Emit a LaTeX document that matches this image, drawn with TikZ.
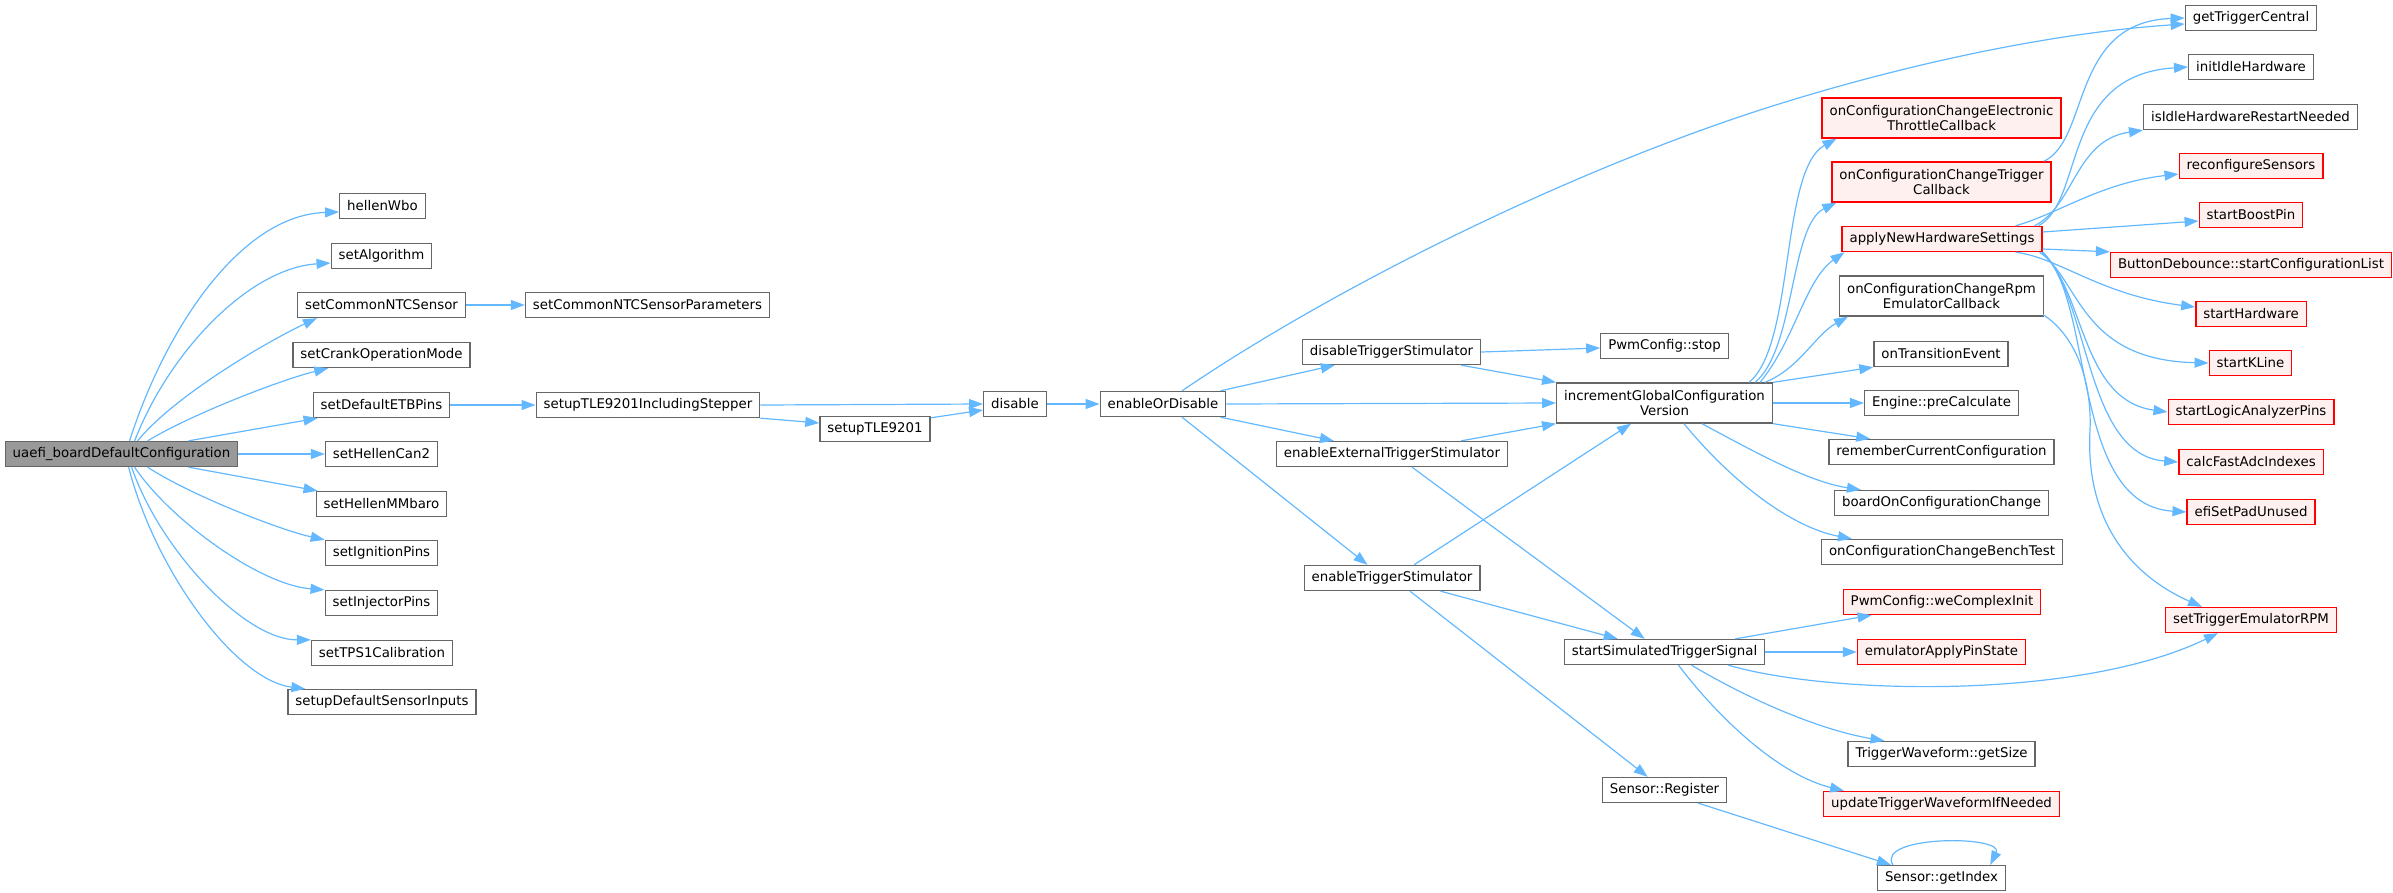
\documentclass[tikz,border=0pt]{standalone}
\usepackage{fontspec}
\setmainfont{DejaVu Sans}
\usepackage{tikz}
\usetikzlibrary{arrows.meta,calc}
\definecolor{edgeblue}{HTML}{63B8FF}
\definecolor{boxgrey}{HTML}{666666}
\definecolor{rootgrey}{HTML}{999999}
\definecolor{pinkfill}{HTML}{FFF0F0}
\tikzset{
    fn/.style={ draw=boxgrey, fill=white, line width=1pt, inner xsep=5.6pt, inner ysep=2pt,
                minimum height=18.75pt, font=\fontsize{10pt}{11pt}\selectfont },
    fnred/.style={ fn, draw=red, fill=pinkfill },
    fnroot/.style={ fn, fill=rootgrey },
    twoline/.style={ align=center, minimum height=30pt },
    calls/.style={ draw=edgeblue, line width=0.9pt, -{Triangle[length=10.5pt,width=7.5pt]} }
}

\begin{document}
\begin{tikzpicture}[x=0.75pt,y=-0.75pt]
        \useasboundingbox (0,0) rectangle (2393,892);

        \node[fnroot] (root) at (121.5,454) {uaefi\_boardDefaultConfiguration};

        \node[fn] (wbo)    at (382.5,206) {hellenWbo};
        \node[fn] (algo)   at (381.5,256) {setAlgorithm};
        \node[fn] (ntc)    at (381.5,305) {setCommonNTCSensor};
        \node[fn] (crank)  at (381.5,355) {setCrankOperationMode};
        \node[fn] (etb)    at (381.5,405) {setDefaultETBPins};
        \node[fn] (can2)   at (381.5,454) {setHellenCan2};
        \node[fn] (mmbaro) at (381.5,504) {setHellenMMbaro};
        \node[fn] (ign)    at (381.5,553) {setIgnitionPins};
        \node[fn] (inj)    at (381.5,603) {setInjectorPins};
        \node[fn] (tps)    at (382,653)   {setTPS1Calibration};
        \node[fn] (sdef)   at (382,702)   {setupDefaultSensorInputs};

        \node[fn] (ntcpar)  at (647.5,305) {setCommonNTCSensorParameters};
        \node[fn] (stepper) at (648,405)   {setupTLE9201IncludingStepper};
        \node[fn] (tle)     at (875,429)   {setupTLE9201};
        \node[fn] (dis)     at (1015,404)  {disable};
        \node[fn] (eod)     at (1163,404)  {enableOrDisable};

        \node[fn] (distrig) at (1391.5,352) {disableTriggerStimulator};
        \node[fn] (exttrig) at (1392,454)   {enableExternalTriggerStimulator};
        \node[fn] (entrig)  at (1392,578)   {enableTriggerStimulator};

        \node[fn] (pwmstop)          at (1664.5,346) {PwmConfig::stop};
        \node[fn,twoline] (incr)     at (1664.5,403) {incrementGlobalConfiguration\\Version};
        \node[fn] (simsig)           at (1664.5,652) {startSimulatedTriggerSignal};
        \node[fn] (sreg)             at (1664.5,790) {Sensor::Register};

        \node[fnred,twoline] (etc)    at (1941.5,118) {onConfigurationChangeElectronic\\ThrottleCallback};
        \node[fnred,twoline] (trigcb) at (1941.5,182) {onConfigurationChangeTrigger\\Callback};
        \node[fnred] (anhs)           at (1942,239)   {applyNewHardwareSettings};
        \node[fn,twoline] (rpmcb)     at (1941.5,296) {onConfigurationChangeRpm\\EmulatorCallback};
        \node[fn] (trans)       at (1941,354)   {onTransitionEvent};
        \node[fn] (precalc)     at (1941.5,403) {Engine::preCalculate};
        \node[fn] (remember)    at (1941.5,452) {rememberCurrentConfiguration};
        \node[fn] (boardcfg)    at (1941.5,503) {boardOnConfigurationChange};
        \node[fn] (bench)       at (1942,552)   {onConfigurationChangeBenchTest};
        \node[fnred] (wecomplex) at (1942,602)  {PwmConfig::weComplexInit};
        \node[fnred] (emupin)   at (1941.5,652) {emulatorApplyPinState};
        \node[fn] (wfsize)      at (1941.5,754) {TriggerWaveform::getSize};
        \node[fnred] (wfupd)    at (1941.5,804) {updateTriggerWaveformIfNeeded};
        \node[fn] (getidx)      at (1941.5,878) {Sensor::getIndex};

        \node[fn] (gtc)         at (2251,18)    {getTriggerCentral};
        \node[fn] (idle)        at (2251,67)    {initIdleHardware};
        \node[fn] (idlerst)     at (2250.5,117) {isIdleHardwareRestartNeeded};
        \node[fnred] (reconf)   at (2251,166)   {reconfigureSensors};
        \node[fnred] (boost)    at (2251,215)   {startBoostPin};
        \node[fnred] (btn)      at (2251,265)   {ButtonDebounce::startConfigurationList};
        \node[fnred] (starthw)  at (2251,314)   {startHardware};
        \node[fnred] (kline)    at (2250.5,363) {startKLine};
        \node[fnred] (logic)    at (2251,412)   {startLogicAnalyzerPins};
        \node[fnred] (fastadc)  at (2251,462)   {calcFastAdcIndexes};
        \node[fnred] (padunused) at (2251,512)  {efiSetPadUnused};
        \node[fnred] (emurpm)   at (2251,620)   {setTriggerEmulatorRPM};

        \draw[calls] ($(root.north west)+(125,0)$) .. controls (165,330) and (240,215) .. ($(wbo.west)+(0,6)$);
        \draw[calls] ($(root.north west)+(130,0)$) .. controls (170,350) and (250,268) .. ($(algo.west)+(0,7)$);
        \draw[calls] ($(root.north west)+(133,0)$) .. controls (175,395) and (270,340) .. ($(ntc.south west)+(20,0)$);
        \draw[calls] ($(root.north west)+(143,0)$) .. controls (190,415) and (280,380) .. ($(crank.south west)+(36,0)$);
        \draw[calls] ($(root.north west)+(184,0)$) -- ($(etb.south west)+(5,0)$);
        \draw[calls] (root.east) -- (can2.west);
        \draw[calls] ($(root.south west)+(184,0)$) -- ($(mmbaro.north west)+(2,0)$);
        \draw[calls] ($(root.south west)+(143,0)$) .. controls (190,495) and (280,530) .. (ign.north west);
        \draw[calls] ($(root.south west)+(130,0)$) .. controls (170,520) and (260,585) .. (inj.north west);
        \draw[calls] ($(root.south west)+(127,0)$) .. controls (160,550) and (245,640) .. (tps.north west);
        \draw[calls] ($(root.south west)+(124,0)$) .. controls (155,570) and (235,680) .. ($(sdef.north west)+(18,0)$);

        \draw[calls] (ntc.east) -- (ntcpar.west);
        \draw[calls] (etb.east) -- (stepper.west);
        \draw[calls] (stepper.east) -- (dis.west);
        \draw[calls] (stepper.south east) -- ($(tle.west)+(0,-6)$);
        \draw[calls] ($(tle.north east)+(0,2)$) -- ($(dis.west)+(0,6)$);
        \draw[calls] (dis.east) -- (eod.west);

        \draw[calls] ($(eod.north)+(19,0)$) .. controls (1330,290) and (1560,175) .. (1760,110)
            .. controls (1900,65) and (2050,33) .. ($(gtc.west)+(0,6)$);
        \draw[calls] ($(eod.north east)+(-6,0)$) -- ($(distrig.south west)+(33,0)$);
        \draw[calls] (eod.east) -- (incr.west);
        \draw[calls] ($(eod.south east)+(-6,0)$) -- ($(exttrig.north west)+(58,0)$);
        \draw[calls] ($(eod.south)+(19,0)$) -- ($(entrig.north west)+(64,0)$);

        \draw[calls] (distrig.east) -- ($(pwmstop.west)+(0,2)$);
        \draw[calls] ($(distrig.south east)+(-20,0)$) -- (incr.north west);
        \draw[calls] ($(exttrig.north east)+(-47,0)$) -- (incr.south west);
        \draw[calls] ($(entrig.north)+(22,0)$) -- ($(incr.south west)+(75,0)$);
        \draw[calls] ($(exttrig.south)+(20,0)$) -- ($(simsig.north west)+(81,0)$);
        \draw[calls] ($(entrig.south east)+(-40,0)$) -- ($(simsig.north west)+(54,0)$);
        \draw[calls] ($(entrig.south)+(18,0)$) -- ($(sreg.north west)+(46,0)$);

        \draw[calls] ($(incr.north east)+(-24,0)$) .. controls (1795,345) and (1780,170) .. ($(etc.south west)+(15,0)$);
        \draw[calls] ($(incr.north east)+(-18,0)$) .. controls (1795,350) and (1790,225) .. ($(trigcb.south west)+(5,0)$);
        \draw[calls] ($(incr.north east)+(-13,0)$) .. controls (1795,340) and (1805,280) .. ($(anhs.south west)+(3,0)$);
        \draw[calls] ($(incr.north east)+(-8,0)$) .. controls (1800,368) and (1815,335) .. ($(rpmcb.south west)+(9,0)$);
        \draw[calls] (incr.north east) -- (trans.south west);
        \draw[calls] (incr.east) -- (precalc.west);
        \draw[calls] (incr.south east) -- ($(remember.north west)+(42,0)$);
        \draw[calls] ($(incr.south east)+(-71,0)$) .. controls (1760,455) and (1810,482) .. ($(boardcfg.north west)+(27,0)$);
        \draw[calls] ($(incr.south east)+(-89,0)$) .. controls (1730,480) and (1790,527) .. ($(bench.north west)+(31,0)$);

        \draw[calls] ($(trigcb.north east)+(-8,0)$) .. controls (2090,140) and (2070,22) .. (gtc.west);
        \draw[calls] ($(anhs.north east)+(-4,0)$) .. controls (2085,200) and (2060,75) .. (idle.west);
        \draw[calls] ($(anhs.north east)+(-8,0)$) .. controls (2075,205) and (2075,140) .. (idlerst.south west);
        \draw[calls] ($(anhs.north east)+(-27,0)$) .. controls (2060,213) and (2100,183) .. ($(reconf.west)+(0,8)$);
        \draw[calls] ($(anhs.east)+(0,-7)$) -- ($(boost.west)+(0,6)$);
        \draw[calls] ($(anhs.east)+(0,10)$) -- (btn.north west);
        \draw[calls] ($(anhs.south east)+(-27,0)$) .. controls (2060,258) and (2100,295) .. ($(starthw.west)+(0,-7)$);
        \draw[calls] ($(anhs.south east)+(-3,0)$) .. controls (2080,280) and (2080,360) .. (kline.west);
        \draw[calls] ($(anhs.south east)+(-1,0)$) .. controls (2085,290) and (2080,400) .. (logic.west);
        \draw[calls] (anhs.south east) .. controls (2090,300) and (2085,455) .. (fastadc.west);
        \draw[calls] (anhs.south east) .. controls (2095,300) and (2070,505) .. (padunused.west);
        \draw[calls] ($(rpmcb.south east)+(-1,-2)$) .. controls (2075,335) and (2092,380) .. (2090,430)
            .. controls (2085,520) and (2130,575) .. ($(emurpm.north west)+(37,0)$);

        \draw[calls] ($(simsig.north east)+(-30,0)$) -- ($(wecomplex.south west)+(29,0)$);
        \draw[calls] (simsig.east) -- (emupin.west);
        \draw[calls] ($(simsig.south east)+(-37,0)$) .. controls (1830,695) and (2080,700) .. ($(emurpm.south west)+(53,0)$);
        \draw[calls] ($(simsig.south)+(27,0)$) .. controls (1750,700) and (1820,730) .. ($(wfsize.north west)+(37,0)$);
        \draw[calls] ($(simsig.south)+(14,0)$) .. controls (1720,720) and (1780,775) .. ($(wfupd.north west)+(21,0)$);
        \draw[calls] ($(sreg.south east)+(-29,0)$) -- ($(getidx.north west)+(14,0)$);
        \draw[calls] ($(getidx.north west)+(16,0)$) .. controls (1875,835) and (2005,835) .. ($(getidx.north east)+(-16,0)$);

    \end{tikzpicture}
\end{document}
